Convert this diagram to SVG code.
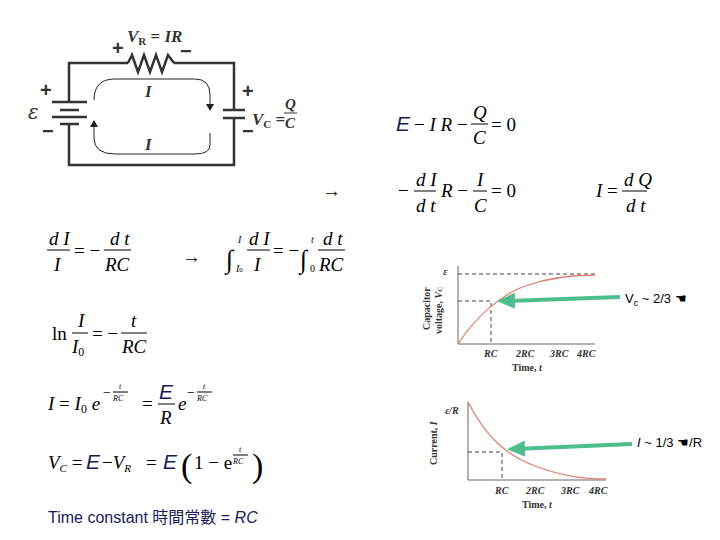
<svg xmlns="http://www.w3.org/2000/svg" width="720" height="540" viewBox="0 0 720 540">
<style>
.m{font-family:"Liberation Serif",serif;font-style:italic;font-size:19px;fill:#000}
.r{font-family:"Liberation Serif",serif;font-size:19px;fill:#000}
.E{font-family:"Liberation Sans",sans-serif;font-style:italic;font-size:21px;fill:#1a1a5a}
.s{font-family:"Liberation Serif",serif;font-size:11px;fill:#000}
.sb{font-family:"Liberation Serif",serif;font-weight:bold;font-size:10px;fill:#333}
.c{font-family:"Liberation Sans",sans-serif;font-weight:bold;font-size:20px;fill:#333}
.w{stroke:#333;stroke-width:2.5;fill:none}
.bar{stroke:#000;stroke-width:1}
.ax{stroke:#666;stroke-width:1;fill:none}
.d{stroke:#444;stroke-width:1;stroke-dasharray:4 3;fill:none}
.cv{stroke:#e08070;stroke-width:1.3;fill:none}
.g{stroke:#4cbf8c;stroke-width:4;fill:none}
.lab{font-family:"Liberation Sans",sans-serif;font-size:13px;fill:#000}
.t8{font-size:8px}
.t10{font-size:10px}
.t26{font-size:26px}
.t14{font-size:14px}
.p{font-size:34px}
</style>
<defs>
<marker id="ah" markerWidth="8" markerHeight="8" refX="6" refY="4" orient="auto" markerUnits="userSpaceOnUse"><path d="M0,0 L7,4 L0,8 z" fill="#222"/></marker>
<marker id="gh" markerWidth="18" markerHeight="16" refX="10" refY="8" orient="auto" markerUnits="userSpaceOnUse"><path d="M0,0 L18,8 L0,16 z" fill="#4cbf8c"/></marker>
</defs>
<rect width="720" height="540" fill="#fff"/>

<g id="circuit">
<path class="w" d="M128,63 H69 V102 M69,123 V165 H234 V118 M234,110 V63 H174"/>
<path class="w" d="M128,63 L132,55 L138,72 L144,55 L150,72 L156,55 L162,72 L168,55 L174,63"/>
<line class="w" x1="52" y1="102" x2="87" y2="102"/>
<line class="w" x1="60" y1="110" x2="79" y2="110"/>
<line class="w" x1="52" y1="117" x2="87" y2="117"/>
<line class="w" x1="60" y1="124" x2="79" y2="124"/>
<line class="w" x1="223" y1="110" x2="245" y2="110"/>
<line class="w" x1="223" y1="118" x2="245" y2="118"/>
<path d="M94,100 Q94,79 115,79 H195 Q210,79 210,95 V110" fill="none" stroke="#222" stroke-width="1" marker-end="url(#ah)"/>
<path d="M210,133 V145 Q210,154 195,154 H115 Q94,154 94,138 V121" fill="none" stroke="#222" stroke-width="1" marker-end="url(#ah)"/>
<text class="c" x="112" y="55">+</text>
<text class="c" x="180" y="58">−</text>
<text x="127" y="42" font-family="Liberation Serif,serif" font-weight="bold" font-style="italic" font-size="17" fill="#333">V<tspan font-size="11" font-style="normal" dy="3">R</tspan><tspan dy="-3" font-style="normal"> = </tspan>IR</text>
<text x="145" y="97" font-family="Liberation Serif,serif" font-weight="bold" font-style="italic" font-size="17" fill="#333">I</text>
<text x="145" y="150" font-family="Liberation Serif,serif" font-weight="bold" font-style="italic" font-size="17" fill="#333">I</text>
<text class="c" x="40" y="97">+</text>
<text x="28" y="119" font-family="DejaVu Serif,serif" font-style="italic" font-size="20" fill="#333">ε</text>
<text class="c" x="42" y="138">−</text>
<text class="c" x="242" y="98">+</text>
<text class="c" x="242" y="138">−</text>
<text x="252" y="125" font-family="Liberation Serif,serif" font-weight="bold" font-style="italic" font-size="17" fill="#333">V<tspan font-size="11" font-style="normal" dy="3">C</tspan><tspan dy="-3" font-style="normal"> =</tspan></text>
<text x="285" y="109" font-family="Liberation Serif,serif" font-weight="bold" font-style="italic" font-size="15" fill="#333">Q</text>
<line x1="284" y1="113" x2="297" y2="113" stroke="#333" stroke-width="1"/>
<text x="285" y="128" font-family="Liberation Serif,serif" font-weight="bold" font-style="italic" font-size="15" fill="#333">C</text>
</g>

<g id="eq1">
<text class="E" x="396" y="131">E</text>
<text class="m" x="414" y="131"><tspan font-style="normal">− </tspan>I R<tspan font-style="normal"> − </tspan></text>
<text class="m" x="473" y="119">Q</text>
<line class="bar" x1="471" y1="124" x2="488" y2="124"/>
<text class="m" x="473" y="144">C</text>
<text class="r" x="491" y="131">= 0</text>
</g>
<g id="eq2">
<text class="r" x="322" y="197">→</text>
<text class="r" x="398" y="197">−</text>
<text class="m" x="416" y="186">d I</text>
<line class="bar" x1="414" y1="191" x2="436" y2="191"/>
<text class="m" x="416" y="212">d t</text>
<text class="m" x="441" y="197">R<tspan font-style="normal"> − </tspan></text>
<text class="m" x="477" y="186">I</text>
<line class="bar" x1="473" y1="191" x2="487" y2="191"/>
<text class="m" x="474" y="212">C</text>
<text class="r" x="491" y="197">= 0</text>
<text class="m" x="596" y="197">I<tspan font-style="normal"> =</tspan></text>
<text class="m" x="624" y="186">d Q</text>
<line class="bar" x1="622" y1="191" x2="647" y2="191"/>
<text class="m" x="626" y="212">d t</text>
</g>
<g id="eq3">
<text class="m" x="49" y="245">d I</text>
<line class="bar" x1="47" y1="250" x2="70" y2="250"/>
<text class="m" x="54" y="271">I</text>
<text class="r" x="74" y="257">= −</text>
<text class="m" x="110" y="245">d t</text>
<line class="bar" x1="104" y1="250" x2="131" y2="250"/>
<text class="m" x="105" y="271">RC</text>
<text class="r" x="182" y="263">→</text>
<text class="r t26" x="226" y="268">∫</text>
<text class="m t10" x="238" y="243">I</text>
<text class="m t10" x="236" y="272">I<tspan style="font-size:7px;font-style:normal">0</tspan></text>
<text class="m" x="249" y="245">d I</text>
<line class="bar" x1="247" y1="250" x2="270" y2="250"/>
<text class="m" x="254" y="271">I</text>
<text class="r" x="273" y="257">= −</text>
<text class="r t26" x="300" y="268">∫</text>
<text class="m t10" x="311" y="243">t</text>
<text class="r t10" x="310" y="272">0</text>
<text class="m" x="323" y="245">d t</text>
<line class="bar" x1="318" y1="250" x2="345" y2="250"/>
<text class="m" x="319" y="271">RC</text>
</g>
<g id="eq4">
<text class="r" x="52" y="340">ln</text>
<text class="m" x="78" y="327">I</text>
<line class="bar" x1="72" y1="333" x2="88" y2="333"/>
<text class="m" x="72" y="353">I<tspan style="font-size:12px;font-style:normal" dy="3">0</tspan></text>
<text class="r" x="92" y="340">= −</text>
<text class="m" x="131" y="327">t</text>
<line class="bar" x1="121" y1="333" x2="147" y2="333"/>
<text class="m" x="122" y="353">RC</text>
</g>
<g id="eq5">
<text class="m" x="48" y="410">I<tspan font-style="normal"> = </tspan>I<tspan style="font-size:12px;font-style:normal" dy="3">0</tspan><tspan dy="-3"> e</tspan></text>
<text class="r t14" x="103" y="397">−</text>
<text class="m t8" x="119" y="389">t</text>
<line class="bar" x1="113" y1="392" x2="128" y2="392" stroke-width="0.6"/>
<text class="m t8" x="113" y="401">RC</text>
<text class="r" x="142" y="410">=</text>
<text class="E" x="159" y="399">E</text>
<line class="bar" x1="158" y1="404" x2="175" y2="404"/>
<text class="m" x="160" y="424">R</text>
<text class="m" x="178" y="410">e</text>
<text class="r t14" x="187" y="397">−</text>
<text class="m t8" x="203" y="389">t</text>
<line class="bar" x1="197" y1="392" x2="212" y2="392" stroke-width="0.6"/>
<text class="m t8" x="197" y="401">RC</text>
</g>
<g id="eq6">
<text class="m" x="48" y="469">V<tspan style="font-size:11px" dy="3">C</tspan><tspan dy="-3" font-style="normal"> = </tspan></text>
<text class="E" x="86" y="469">E</text>
<text class="m" x="102" y="469"><tspan font-style="normal">−</tspan>V<tspan style="font-size:11px" dy="3">R</tspan></text>
<text class="r" x="146" y="469">=</text>
<text class="E" x="163" y="469">E</text>
<text class="r p" x="181" y="477">(</text>
<text class="r" x="194" y="469">1 − e</text>
<text class="m t8" x="239" y="452">t</text>
<line class="bar" x1="233" y1="455" x2="248" y2="455" stroke-width="0.6"/>
<text class="m t8" x="233" y="464">RC</text>
<text class="r p" x="252" y="477">)</text>
</g>
<g id="timeconst">
<text x="48" y="523" font-family="Liberation Sans,'Noto Sans CJK TC',sans-serif" font-size="16" fill="#1a1a5a">Time constant  時間常數 = <tspan font-style="italic">RC</tspan></text>
</g>

<g id="graph1">
<path class="d" d="M458,274 H595 M458,301 H491 V344"/>
<path class="ax" d="M458,266 V344 H595"/>
<path class="cv" d="M458,344 C475,318 500,295 525,286 S575,275 595,275"/>
<text class="s" x="443" y="275" font-style="italic">ε</text>
<text class="sb" x="484" y="357" font-style="italic">RC</text>
<text class="sb" x="516" y="357" font-style="italic">2RC</text>
<text class="sb" x="550" y="357" font-style="italic">3RC</text>
<text class="sb" x="577" y="357" font-style="italic">4RC</text>
<text class="sb" x="512" y="371">Time, <tspan font-style="italic">t</tspan></text>
<text class="sb" transform="translate(430,330) rotate(-90)">Capacitor</text>
<text class="sb" transform="translate(442,334) rotate(-90)">voltage, <tspan font-style="italic">V</tspan><tspan style="font-size:7px">C</tspan></text>
</g>
<g id="graph2">
<path class="d" d="M468,452 H502 V480"/>
<path class="ax" d="M468,402 V480 H606"/>
<path class="cv" d="M468,402 C485,435 505,455 535,466 S585,479 606,479"/>
<text class="sb" x="445" y="414" font-style="italic">ε/R</text>
<text class="sb" x="495" y="494" font-style="italic">RC</text>
<text class="sb" x="526" y="494" font-style="italic">2RC</text>
<text class="sb" x="561" y="494" font-style="italic">3RC</text>
<text class="sb" x="589" y="494" font-style="italic">4RC</text>
<text class="sb" x="522" y="508">Time, <tspan font-style="italic">t</tspan></text>
<text class="sb" transform="translate(437,465) rotate(-90)">Current, <tspan font-style="italic">I</tspan></text>
</g>

<g id="connectors">
<line class="g" x1="620" y1="297" x2="505" y2="301" marker-end="url(#gh)"/>
<line class="g" x1="632" y1="444" x2="515" y2="449" marker-end="url(#gh)"/>
</g>
<g id="notes">
<text class="lab" x="625" y="303">V<tspan style="font-size:9px" dy="3">c</tspan><tspan dy="-3"> ~ 2/3 ☚</tspan></text>
<text class="lab" x="637" y="447"><tspan font-style="italic">I</tspan> ~ 1/3 ☚/R</text>
</g>
</svg>
